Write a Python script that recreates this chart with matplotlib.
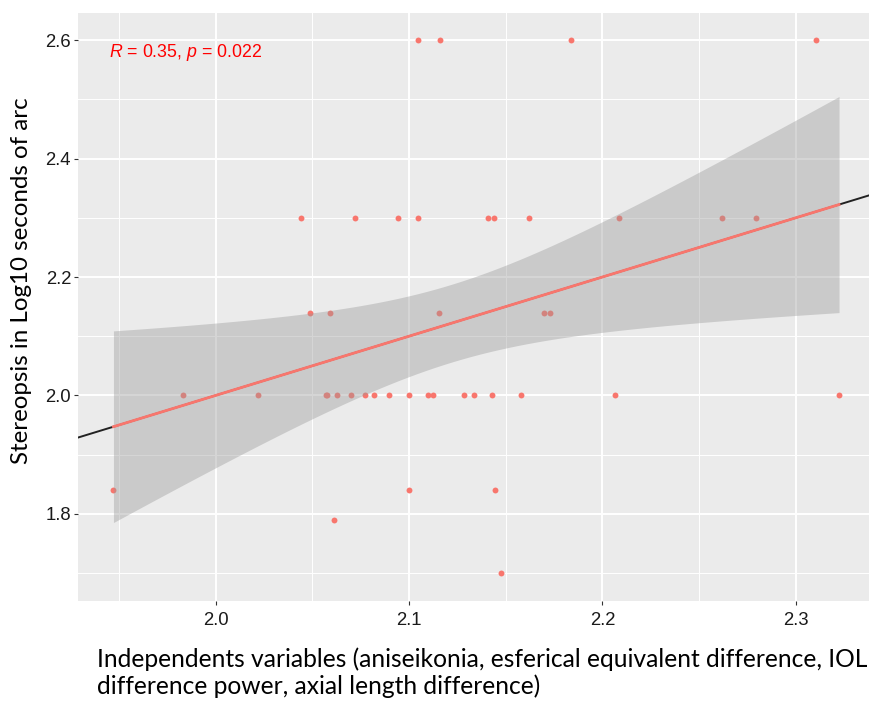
import numpy as np
import matplotlib
matplotlib.use('Agg')
import matplotlib.pyplot as plt

# Data (independent variable vs stereopsis, log10 arcsec)
x_vals = [2.1045, 2.1159, 2.1836, 2.3104,
          2.0440, 2.0718, 2.0941, 2.1048, 2.1409, 2.1439, 2.1618, 2.2088, 2.2617, 2.2793,
          2.0485, 2.0593, 2.1155, 2.1696, 2.1731,
          1.9829, 2.0219, 2.0568, 2.0577, 2.0627, 2.0698, 2.0770, 2.0820, 2.0895, 2.1000,
          2.1100, 2.1124, 2.1285, 2.1335, 2.1428, 2.1579, 2.2066, 2.3225,
          1.9470, 2.1000, 2.1446,
          2.0610,
          2.1475]
y_vals = [2.60, 2.60, 2.60, 2.60,
          2.30, 2.30, 2.30, 2.30, 2.30, 2.30, 2.30, 2.30, 2.30, 2.30,
          2.14, 2.14, 2.14, 2.14, 2.14,
          2.00, 2.00, 2.00, 2.00, 2.00, 2.00, 2.00, 2.00, 2.00, 2.00,
          2.00, 2.00, 2.00, 2.00, 2.00, 2.00, 2.00, 2.00,
          1.84, 1.84, 1.84,
          1.79,
          1.70]
x_ticks = [2.0, 2.1, 2.2, 2.3]
y_ticks = [1.8, 2.0, 2.2, 2.4, 2.6]
cor_label = r'$\mathit{R}$ = 0.35, $\mathit{p}$ = 0.022'
x_title_1 = 'Independents variables (aniseikonia, esferical equivalent difference, IOL'
x_title_2 = 'difference power, axial length difference)'
y_title = 'Stereopsis in Log10 seconds of arc'

plt.rcParams['mathtext.fontset'] = 'custom'
plt.rcParams['mathtext.rm'] = 'Liberation Sans'
plt.rcParams['mathtext.it'] = 'Liberation Sans:italic'

x = np.array(x_vals)
y = np.array(y_vals)

# linear fit + 95% confidence band like geom_smooth(method='lm')
n = len(x)
slope, intercept = np.polyfit(x, y, 1)
resid = y - (slope * x + intercept)
s = np.sqrt(np.sum(resid ** 2) / (n - 2))
sxx = np.sum((x - x.mean()) ** 2)
t_crit = 2.021  # t(0.975, df=40)
xs = np.linspace(x.min(), x.max(), 80)
ys = slope * xs + intercept
half = t_crit * s * np.sqrt(1.0 / n + (xs - x.mean()) ** 2 / sxx)

fig = plt.figure(figsize=(8.69, 7.02), dpi=100)
ax = fig.add_axes([0.0894, 0.1443, 0.9106, 0.8368])
ax.set_facecolor('#EBEBEB')
xlim = (1.9285, 2.338)
ax.set_xlim(*xlim)
ax.set_ylim(1.6533, 2.6456)

ax.set_xticks(x_ticks)
ax.set_xticklabels(['%.1f' % v for v in x_ticks])
ax.set_yticks(y_ticks)
ax.set_yticklabels(['%.1f' % v for v in y_ticks])
ax.set_xticks([1.95, 2.05, 2.15, 2.25], minor=True)
ax.set_yticks([1.7, 1.9, 2.1, 2.3, 2.5], minor=True)
ax.grid(which='major', color='white', lw=1.4)
ax.grid(which='minor', color='white', lw=0.7)
ax.set_axisbelow(True)
for sp in ax.spines.values():
    sp.set_visible(False)
ax.tick_params(which='major', length=2.8, width=0.8, color='#333333',
               labelsize=13.3, labelcolor='#1a1a1a', pad=2)
ax.tick_params(axis='x', which='major', pad=5)
ax.tick_params(which='minor', length=0)
for lab in ax.get_xticklabels() + ax.get_yticklabels():
    lab.set_fontfamily('Liberation Sans')

# full-range fit line in black, then points, band and fitted line
xf = np.array(xlim)
ax.plot(xf, slope * xf + intercept, color='#222222', lw=1.4, zorder=2)
ax.scatter(x, y, s=18, color='#F8766D', linewidths=0, zorder=3)
ax.fill_between(xs, ys - half, ys + half, color='#999999', alpha=0.4, lw=0, zorder=4)
ax.plot(xs, ys, color='#F8766D', lw=2.0, zorder=5)

ax.text(1.9445, 2.58, cor_label, color='red', fontsize=12.8,
        family='Liberation Sans', ha='left', va='center', zorder=6)

fig.text(22 / 869, 1 - 281 / 702, y_title, rotation=90, ha='center', va='center',
         fontsize=17.4, family='Lato')
fig.text(97 / 869, 1 - 667 / 702, x_title_1, ha='left', va='baseline',
         fontsize=17.75, family='Lato')
fig.text(97 / 869, 1 - 694 / 702, x_title_2, ha='left', va='baseline',
         fontsize=17.75, family='Lato')

fig.savefig('out.png', dpi=100)
